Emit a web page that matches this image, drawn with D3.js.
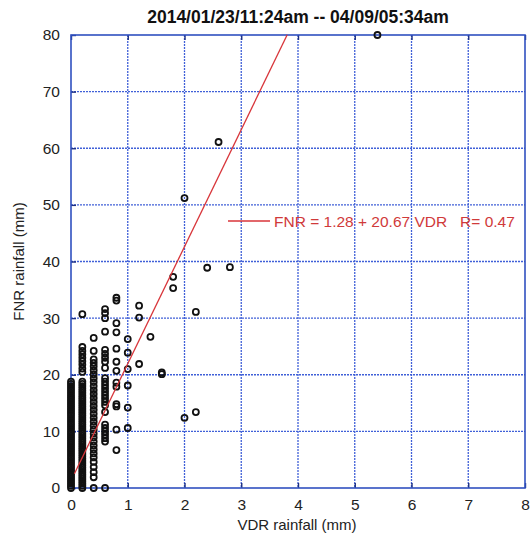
<!DOCTYPE html>
<html>
<head>
<meta charset="utf-8">
<script src="https://cdn.jsdelivr.net/npm/d3@7"></script>
<style>
  body { margin: 0; background: #fff; }
  text { font-family: "Liberation Sans", Arial, sans-serif; }
</style>
</head>
<body>
<script>
// VDR columns (mm) and the FNR values (mm) read at each of them
const col00 = [0,0.4,0.8,1.2,1.6,2,2.4,2.8,3.2,3.6,4,4.4,4.8,5.2,5.6,6,6.4,6.8,7.2,7.6,8,8.4,8.8,9.2,9.6,10,10.4,10.8,11.2,11.6,12,12.4,12.8,13.2,13.6,14,14.4,14.8,15.2,15.6,16,16.4,16.8,17.2,17.6,18,18.4,18.8];
const col02 = [0,0.4,0.8,1.2,1.6,2,2.4,2.8,3.2,3.6,4,4.4,4.8,5.2,5.6,6,6.4,6.8,7.2,7.6,8,8.4,8.8,9.2,9.6,10,10.4,10.8,11.2,11.6,12,12.4,12.8,13.2,13.6,14,14.4,14.8,15.2,15.6,16,16.4,16.8,17.2,17.6,18,18.4,18.8,20.5,21.1,21.8,22.4,23.0,23.6,24.2,24.9,30.7];
const col04 = [0,1.9,2.8,3.7,4.6,5.4,6.1,6.8,7.5,8.2,8.9,9.6,10.3,11.0,11.7,12.4,13.1,13.8,14.5,15.2,15.9,16.6,17.3,18.0,18.7,19.4,20.1,20.8,21.5,22.1,22.7,24.2,26.5];
const col06 = [0,8.2,8.8,9.4,10.0,10.6,11.2,13.4,14.6,15.2,15.8,16.4,17.0,17.6,18.2,18.8,19.4,21.2,22.3,23.0,23.7,24.4,27.6,30.0,30.9,31.6];
const col08 = [6.7,10.3,14.4,14.8,17.9,18.6,20.7,22.3,24.6,27.5,29.1,33.1,33.6];
const col10 = [10.6,14.2,18.1,21.0,23.9,26.3];
const col12 = [21.9,30.1,32.2];
const col14 = [26.7];
const col16 = [20.1,20.4];
const col18 = [35.3,37.3];
const col20 = [12.4,51.2];
const col22 = [13.4,31.1];
const col24 = [38.9];
const col26 = [61.1];
const col28 = [39.0];
const col54 = [80];

const vdrColumns = [0,0.2,0.4,0.6,0.8,1.0,1.2,1.4,1.6,1.8,2.0,2.2,2.4,2.6,2.8,5.4];
const fnrColumns = [col00,col02,col04,col06,col08,col10,col12,col14,col16,col18,col20,col22,col24,col26,col28,col54];

const xTicks = [0,1,2,3,4,5,6,7,8];
const yTicks = [0,10,20,30,40,50,60,70,80];

// regression FNR = a + b * VDR
const fitA = 1.28, fitB = 20.67, fitR = 0.47;
const fitRange = [0.06, 3.81];

const points = [];
vdrColumns.forEach((v, i) => fnrColumns[i].forEach(f => points.push({ vdr: v, fnr: f })));

const W = 532, H = 542;
const margin = { top: 35, right: 7, bottom: 54, left: 71 };
const width = W - margin.left - margin.right,
      height = H - margin.top - margin.bottom;

const svg = d3.select("body").append("svg")
    .attr("width", W)
    .attr("height", H);

const g = svg.append("g")
    .attr("transform", "translate(" + margin.left + "," + margin.top + ")");

const x = d3.scaleLinear().domain([0, 8]).range([0, width]);
const y = d3.scaleLinear().domain([0, 80]).range([height, 0]);

const gridColor = "#4060d8";
const frameColor = "#3050c0";

// dotted grid
g.append("g").selectAll("line").data(xTicks.slice(1, -1)).join("line")
    .attr("x1", d => x(d)).attr("x2", d => x(d))
    .attr("y1", 0).attr("y2", height)
    .attr("stroke", gridColor).attr("stroke-width", 1.3)
    .attr("stroke-dasharray", "2,1");
g.append("g").selectAll("line").data(yTicks.slice(1, -1)).join("line")
    .attr("y1", d => y(d)).attr("y2", d => y(d))
    .attr("x1", 0).attr("x2", width)
    .attr("stroke", gridColor).attr("stroke-width", 1.3)
    .attr("stroke-dasharray", "2,1");

// axes with inward ticks
const gx = g.append("g")
    .attr("transform", "translate(0," + height + ")")
    .call(d3.axisBottom(x).tickValues(xTicks).tickSizeInner(-5).tickSizeOuter(0).tickPadding(11));
const gxTop = g.append("g")
    .call(d3.axisTop(x).tickValues(xTicks).tickSizeInner(-5).tickSizeOuter(0).tickFormat(""));
const gy = g.append("g")
    .call(d3.axisLeft(y).tickValues(yTicks).tickSizeInner(-5).tickSizeOuter(0).tickPadding(11));

[gx, gxTop, gy].forEach(a => {
    a.select(".domain").remove();
    a.selectAll(".tick line").attr("stroke", "#1c2f80").attr("stroke-width", 1.4);
    a.selectAll(".tick text").attr("font-size", 15.5).attr("fill", "#222")
        .style("font-family", "'Liberation Sans', Arial, sans-serif");
});

// frame
g.append("rect")
    .attr("width", width).attr("height", height)
    .attr("fill", "none").attr("stroke", frameColor).attr("stroke-width", 1.6);

// data points
g.append("g").selectAll("circle").data(points).join("circle")
    .attr("cx", d => x(d.vdr))
    .attr("cy", d => y(d.fnr))
    .attr("r", 3)
    .attr("fill", "none")
    .attr("stroke", "#111")
    .attr("stroke-width", 1.8);

// fit line
g.append("line")
    .attr("x1", x(fitRange[0])).attr("y1", y(fitA + fitB * fitRange[0]))
    .attr("x2", x(fitRange[1])).attr("y2", y(fitA + fitB * fitRange[1]))
    .attr("stroke", "#d8353a").attr("stroke-width", 1.3);

// legend
const legY = 221 - margin.top;
g.append("line")
    .attr("x1", 228 - margin.left).attr("x2", 270 - margin.left)
    .attr("y1", legY).attr("y2", legY)
    .attr("stroke", "#d8353a").attr("stroke-width", 1.3);
g.append("text")
    .attr("x", 274 - margin.left).attr("y", legY + 5.5)
    .attr("font-size", 15.5).attr("fill", "#d03a3a")
    .attr("xml:space", "preserve")
    .text("FNR = " + fitA + " + " + fitB + " VDR   R= " + fitR);

// title and axis labels
svg.append("text")
    .attr("x", 298).attr("y", 23)
    .attr("text-anchor", "middle")
    .attr("font-size", 17.5).attr("font-weight", "bold").attr("fill", "#111")
    .text("2014/01/23/11:24am -- 04/09/05:34am");

svg.append("text")
    .attr("x", 297).attr("y", 530)
    .attr("text-anchor", "middle")
    .attr("font-size", 15).attr("fill", "#222")
    .text("VDR rainfall (mm)");

svg.append("text")
    .attr("transform", "translate(24," + (margin.top + height / 2) + ") rotate(-90)")
    .attr("text-anchor", "middle")
    .attr("font-size", 15).attr("fill", "#222")
    .text("FNR rainfall (mm)");
</script>
</body>
</html>
